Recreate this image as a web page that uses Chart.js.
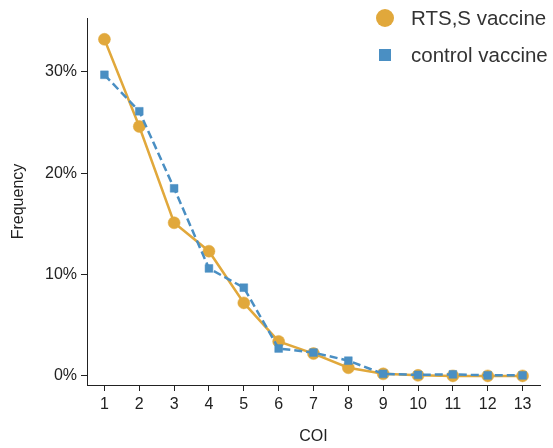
<!DOCTYPE html>
<html>
<head>
<meta charset="utf-8">
<script src="https://cdn.jsdelivr.net/npm/chart.js@4/dist/chart.umd.min.js"></script>
<style>
  html, body { margin:0; padding:0; background:#fff; }
  #wrap { position:relative; width:553px; height:448px; font-family:"Liberation Sans", Arial, sans-serif; }
  .lg { position:absolute; left:368px; font-size:20.5px; color:#333; white-space:nowrap; }
  .lg .mk { position:absolute; }
  .lg span { position:absolute; left:43px; top:0; line-height:20px; }
</style>
</head>
<body>
<div id="wrap">
  <canvas id="chart" width="553" height="448"></canvas>
  <div class="lg" style="top:8px">
    <div class="mk" style="left:8px;top:1px;width:18px;height:18px;border-radius:50%;background:#e1a83b"></div>
    <span>RTS,S vaccine</span>
  </div>
  <div class="lg" style="top:45px">
    <div class="mk" style="left:11px;top:4px;width:12px;height:12px;background:#4a8fc3"></div>
    <span>control vaccine</span>
  </div>
</div>
<script>
// ── Données ─────────────────────────────────────────────
const coi      = [1, 2, 3, 4, 5, 6, 7, 8, 9, 10, 11, 12, 13];
const rtsS     = [33.2, 24.6, 15.1, 12.3, 7.2, 3.4, 2.2, 0.8, 0.2, 0.05, 0.0, 0.0, 0.0];
const control  = [29.7, 26.1, 18.5, 10.6, 8.7, 2.7, 2.3, 1.5, 0.2, 0.1, 0.15, 0.05, 0.05];
const yTicks   = [0, 10, 20, 30];

const GOLD = '#e1a83b', BLUE = '#4a8fc3', INK = '#222';
const FONT = { family: '"Liberation Sans", Arial, sans-serif', size: 16 };

const pts = arr => coi.map((x, i) => ({ x, y: arr[i] }));

new Chart(document.getElementById('chart').getContext('2d'), {
  type: 'line',
  data: {
    datasets: [
      {
        label: 'RTS,S vaccine', data: pts(rtsS),
        borderColor: GOLD, backgroundColor: GOLD, borderWidth: 2.5,
        pointStyle: 'circle', pointRadius: 6, pointBorderColor: GOLD, pointBorderWidth: 0.5,
        tension: 0, order: 2,
      },
      {
        label: 'control vaccine', data: pts(control),
        borderColor: BLUE, backgroundColor: BLUE, borderWidth: 2.5, borderDash: [8, 4],
        pointStyle: 'rect', pointRadius: 5.5, pointBorderColor: BLUE, pointBorderWidth: 0.5,
        tension: 0, order: 1,
      },
    ]
  },
  options: {
    responsive: false, animation: false,
    layout: { padding: { left: 0, right: 13, top: 18, bottom: 0 } },
    plugins: { legend: { display: false }, tooltip: { enabled: false } },
    scales: {
      x: {
        type: 'linear', min: 0.5, max: 13.5,
        afterBuildTicks: s => { s.ticks = coi.map(v => ({ value: v })); },
        afterFit: s => { s.height = 63; },
        grid: { drawOnChartArea: false, tickLength: 6, color: INK, tickColor: INK },
        border: { display: true, color: INK, width: 1 },
        ticks: { color: INK, font: FONT, padding: 4, maxRotation: 0 },
        title: { display: true, text: 'COI', color: INK, font: FONT, padding: { top: 0, bottom: 2 } },
      },
      y: {
        min: -0.9, max: 35.3,
        afterBuildTicks: s => { s.ticks = yTicks.map(v => ({ value: v })); },
        afterFit: s => { s.width = 87; },
        grid: { drawOnChartArea: false, tickLength: 6, color: INK, tickColor: INK },
        border: { display: true, color: INK, width: 1 },
        ticks: { color: INK, font: FONT, padding: 4, callback: v => v + '%' },
        title: { display: true, text: 'Frequency', color: INK, font: FONT, padding: { top: 9, bottom: 0 } },
      }
    }
  }
});
</script>
</body>
</html>
